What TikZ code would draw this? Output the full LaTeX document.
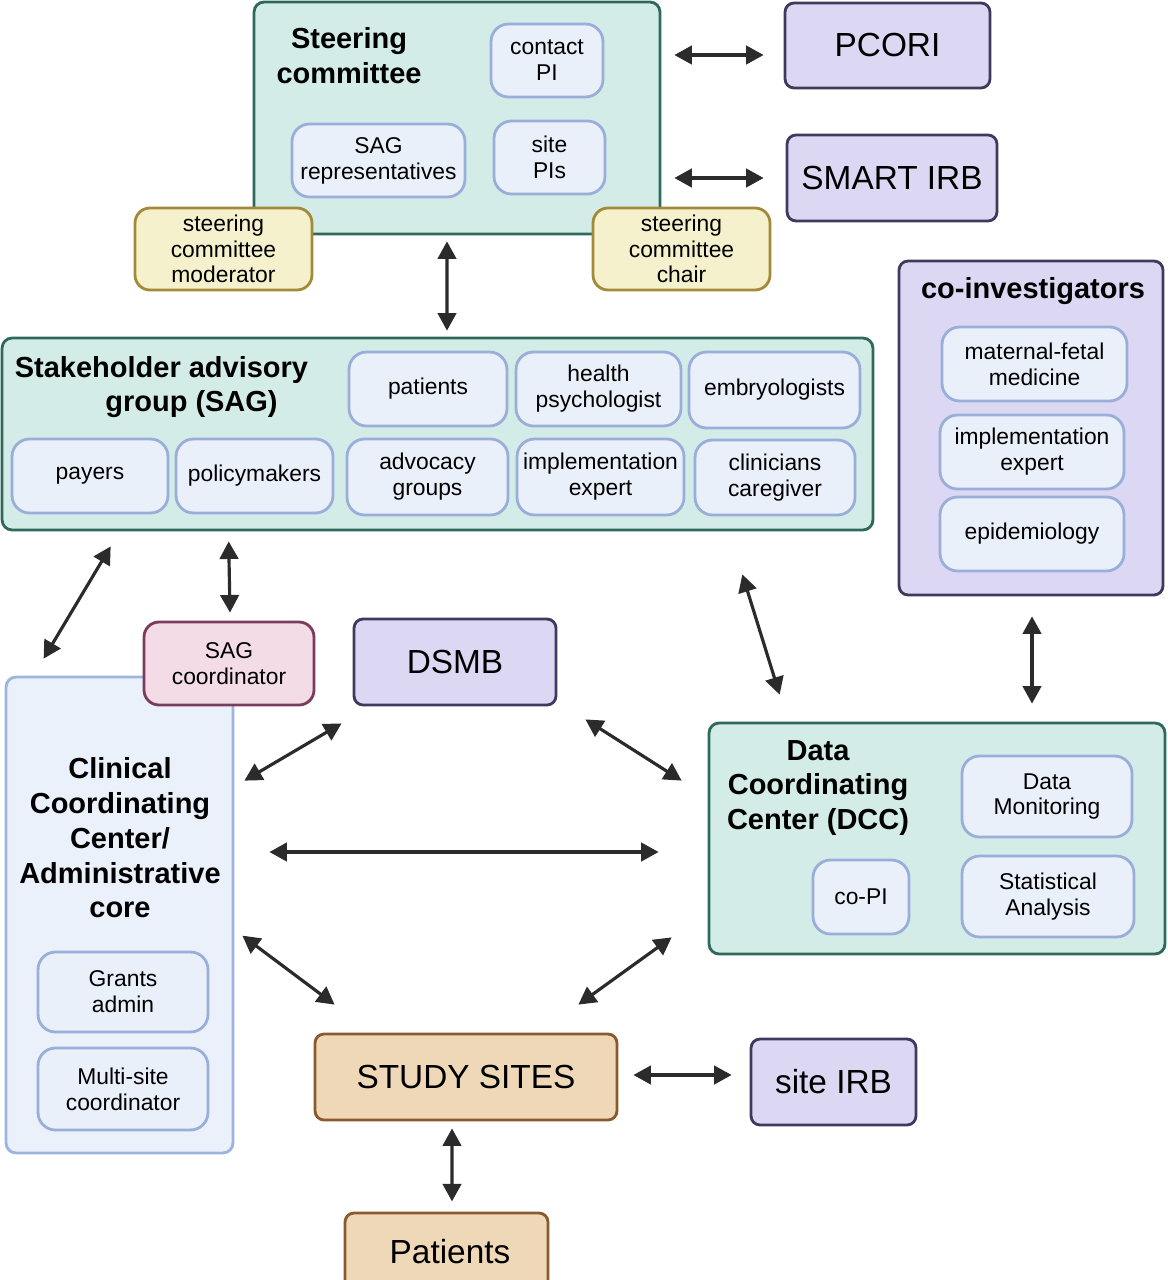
\documentclass[tikz,border=0pt]{standalone}
\usepackage{fontspec}
\setmainfont{Liberation Sans}
\usetikzlibrary{arrows.meta,calc}
\definecolor{tealfill}{HTML}{D3ECE7}
\definecolor{tealline}{HTML}{2E6A5C}
\definecolor{memfill}{HTML}{EAF0FA}
\definecolor{memline}{HTML}{9AAEDA}
\definecolor{extfill}{HTML}{DCD7F2}
\definecolor{extline}{HTML}{3F395E}
\definecolor{rolefill}{HTML}{F6F1CD}
\definecolor{roleline}{HTML}{A38A3A}
\definecolor{pinkfill}{HTML}{F3DCE6}
\definecolor{pinkline}{HTML}{7B3B5C}
\definecolor{cccfill}{HTML}{EAF1FB}
\definecolor{cccline}{HTML}{9DB5DE}
\definecolor{tanfill}{HTML}{EED8B7}
\definecolor{tanline}{HTML}{8A5A2E}
\definecolor{arrowgray}{HTML}{2B2B2B}

\begin{document}
\begin{tikzpicture}[x=0.02cm, y=-0.02cm,
  grp/.style={draw=tealline, fill=tealfill, line width=1.6pt, rounded corners=0.2cm, inner sep=0pt},
  member/.style={draw=memline, fill=memfill, line width=1.6pt, rounded corners=0.35cm, inner sep=0pt, align=center, font=\fontsize{13}{14.7}\selectfont},
  role/.style={draw=roleline, fill=rolefill, line width=1.6pt, rounded corners=0.3cm, inner sep=0pt, align=center, font=\fontsize{13}{14.7}\selectfont, minimum width=3.54cm, minimum height=1.64cm},
  ext/.style={draw=extline, fill=extfill, line width=1.6pt, rounded corners=0.18cm, inner sep=0pt, font=\fontsize{19}{22}\selectfont},
  sitebox/.style={draw=tanline, fill=tanfill, line width=1.6pt, rounded corners=0.18cm, inner sep=0pt, font=\fontsize{19}{22}\selectfont},
  heading/.style={font=\bfseries\fontsize{16.5}{19.8}\selectfont, align=center},
  link/.style={{Triangle[length=10pt,width=10.5pt]}-{Triangle[length=10pt,width=10.5pt]}, line width=1.8pt, draw=arrowgray}
]
  \useasboundingbox (0,0) rectangle (1167,1280);
  \clip (0,0) rectangle (1167,1280);

  % Steering committee
  \node[grp, minimum width=8.12cm, minimum height=4.64cm] (steer) at (457,118) {};
  \node[heading] (steertitle) at (349,55.5) {Steering\\committee};
  \node[member, minimum width=2.24cm, minimum height=1.46cm] (contact) at (547,60.5) {contact\\PI};
  \node[member, minimum width=3.46cm, minimum height=1.46cm] (sagrep) at (378.5,160.5) {SAG\\representatives};
  \node[member, minimum width=2.22cm, minimum height=1.46cm] (sitepis) at (549.5,157.5) {site\\PIs};
  \node[role] (moderator) at (223.5,249) {steering\\committee\\moderator};
  \node[role] (chair) at (681.5,249) {steering\\committee\\chair};

  % External bodies
  \node[ext, minimum width=4.1cm, minimum height=1.7cm] (pcori) at (887.5,45.5) {PCORI};
  \node[ext, minimum width=4.2cm, minimum height=1.72cm] (smart) at (892,178) {SMART IRB};

  % Stakeholder advisory group
  \node[grp, minimum width=17.42cm, minimum height=3.84cm] (sag) at (437.5,434) {};
  \node[heading] (sagtitle) at (161.5,387) {Stakeholder advisory\\\hspace*{1.2cm}group (SAG)};
  \node[member, minimum width=3.16cm, minimum height=1.48cm] (patients) at (428,389) {patients};
  \node[member, minimum width=3.3cm, minimum height=1.48cm] (psych) at (598.5,389) {health\\psychologist};
  \node[member, minimum width=3.42cm, minimum height=1.52cm] (embryo) at (774.5,390) {embryologists};
  \node[member, minimum width=3.12cm, minimum height=1.48cm] (payers) at (90,476) {payers};
  \node[member, minimum width=3.14cm, minimum height=1.48cm] (policy) at (254.5,476) {policymakers};
  \node[member, minimum width=3.22cm, minimum height=1.52cm] (advocacy) at (427.5,477) {advocacy\\groups};
  \node[member, minimum width=3.34cm, minimum height=1.52cm] (implsag) at (600.5,477) {implementation\\expert};
  \node[member, minimum width=3.2cm, minimum height=1.5cm] (clinicians) at (775,477.5) {clinicians\\caregiver};

  % Co-investigators
  \node[ext, minimum width=5.28cm, minimum height=6.68cm] (coinv) at (1031,428) {};
  \node[heading] (coinvtitle) at (1033,291) {co-investigators};
  \node[member, minimum width=3.7cm, minimum height=1.48cm] (mfm) at (1034.5,364) {maternal-fetal\\medicine};
  \node[member, minimum width=3.68cm, minimum height=1.48cm] (implco) at (1032,452) {implementation\\expert};
  \node[member, minimum width=3.68cm, minimum height=1.48cm] (epi) at (1032,534) {epidemiology};

  % Clinical coordinating center
  \node[draw=cccline, fill=cccfill, line width=1.6pt, rounded corners=0.2cm, minimum width=4.54cm, minimum height=9.52cm] (ccc) at (119.5,915) {};
  \node[heading] (ccctitle) at (120,838) {Clinical\\Coordinating\\Center/\\Administrative\\core};
  \node[member, minimum width=3.4cm, minimum height=1.6cm] (grants) at (123,992) {Grants\\admin};
  \node[member, minimum width=3.4cm, minimum height=1.64cm] (multisite) at (123,1089) {Multi-site\\coordinator};
  \node[draw=pinkline, fill=pinkfill, line width=1.6pt, rounded corners=0.3cm, inner sep=0pt, align=center, font=\fontsize{13}{14.7}\selectfont, minimum width=3.4cm, minimum height=1.66cm] (sagcoord) at (229,663.5) {SAG\\coordinator};
  \node[ext, minimum width=4.04cm, minimum height=1.72cm] (dsmb) at (455,662) {DSMB};

  % Data coordinating center
  \node[grp, minimum width=9.12cm, minimum height=4.62cm] (dcc) at (937,838.5) {};
  \node[heading] (dcctitle) at (818,788) {Data\\Coordinating\\Center (DCC)};
  \node[member, minimum width=3.4cm, minimum height=1.62cm] (monitor) at (1047,796.5) {Data\\Monitoring};
  \node[member, minimum width=1.92cm, minimum height=1.48cm] (copi) at (861,897) {co-PI};
  \node[member, minimum width=3.44cm, minimum height=1.62cm] (stats) at (1048,896.5) {Statistical\\Analysis};

  % Sites and patients
  \node[sitebox, minimum width=6.04cm, minimum height=1.72cm] (sites) at (466,1077) {STUDY SITES};
  \node[ext, minimum width=3.3cm, minimum height=1.72cm] (siteirb) at (833.5,1082) {site IRB};
  \node[sitebox, minimum width=4.06cm, minimum height=1.74cm] (pat) at (446.5,1256.5) {};
  \node[font=\fontsize{19}{22}\selectfont] (pattext) at (450,1252) {Patients};

  % Arrows
  \draw[link] ($(steer.east |- pcori.west)+(13,9.5)$) -- ($(pcori.west)+(-20,9.5)$);
  \draw[link] ($(steer.east |- smart.west)+(13,0)$) -- ($(smart.west)+(-22,0)$);
  \draw[link] ($(steer.south)+(-10,6)$) -- ($(sag.north)+(9.5,-6)$);
  \draw[link] ($(sag.south west)+(110,15)$) -- ($(ccc.north west)+(39,-17)$);
  \draw[link] ($(sag.south west)+(228,10)$) -- ($(sagcoord.north)+(1,-8)$);
  \draw[link] ($(sag.south east)+(-132,43)$) -- ($(dcc.north west)+(72,-27)$);
  \draw[link] ($(coinv.south)+(1,20)$) -- ($(coinv.south |- dcc.north)+(1,-18)$);
  \draw[link] ($(ccc.north east)+(10,105)$) -- ($(dsmb.south west)+(-11,17)$);
  \draw[link] ($(dsmb.south east)+(28,13)$) -- ($(dcc.north west)+(-26,59)$);
  \draw[link] ($(ccc.east |- dcc.west)+(35,13.5)$) -- ($(dcc.west)+(-49,13.5)$);
  \draw[link] ($(ccc.north east)+(8,260)$) -- ($(sites.north west)+(21,-28)$);
  \draw[link] ($(sites.north east)+(-40,-28)$) -- ($(dcc.south west)+(-36,-18)$);
  \draw[link] ($(sites.east)+(15,-2)$) -- ($(sites.east -| siteirb.west)+(-18,-2)$);
  \draw[link] ($(sites.south)+(-14,7)$) -- ($(sites.south -| pat.north)+(5.5,80)$);
\end{tikzpicture}
\end{document}
